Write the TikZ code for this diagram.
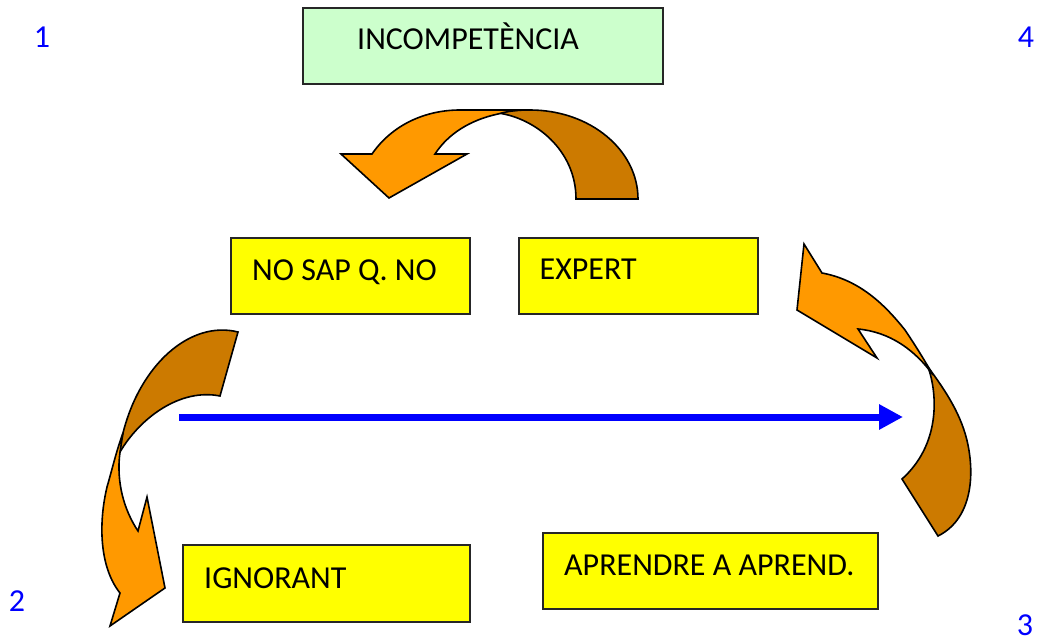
\documentclass[tikz,border=0pt]{standalone}
\usepackage{fontspec}
\setmainfont{Carlito}
\usetikzlibrary{arrows.meta}
\definecolor{boxyellow}{RGB}{255,255,0}
\definecolor{boxgreen}{RGB}{204,255,204}
\definecolor{arroworange}{RGB}{255,153,0}
\definecolor{arrowbrown}{RGB}{204,122,0}
\definecolor{numblue}{RGB}{0,0,255}
\tikzset{
  x=1pt,y=-1pt,
  boxbase/.style={draw=black!85,line width=1.4pt,inner sep=0pt},
  txt/.style={font=\fontsize{32}{35}\selectfont,anchor=base west,inner sep=0pt,text=black},
  num/.style={font=\fontsize{32}{35}\selectfont,anchor=base,inner sep=0pt,text=numblue},
  front/.style={fill=arroworange,draw=black,line width=1.6pt,line join=miter},
  back/.style={fill=arrowbrown,draw=black,line width=1.6pt,line join=miter},
  bluearrow/.style={draw=numblue,line width=7pt,-{Triangle[length=24pt,width=24pt]}}
}
\begin{document}
\begin{tikzpicture}
\useasboundingbox (0,0) rectangle (1037,639);
% boxes
\draw[boxbase,fill=boxgreen] (303,8) rectangle (663,84);
\draw[boxbase,fill=boxyellow] (231,238) rectangle (470,314);
\draw[boxbase,fill=boxyellow] (519,238) rectangle (758,314);
\draw[boxbase,fill=boxyellow] (183,545) rectangle (470,622);
\draw[boxbase,fill=boxyellow] (543,533) rectangle (878,609);
\node[txt] (t1) at (357,50) {INCOMPETÈNCIA};
\node[txt] (t2) at (252,281) {NO SAP Q. NO};
\node[txt] (t3) at (539.5,280) {EXPERT};
\node[txt] (t4) at (204,588) {IGNORANT};
\node[txt] (t5) at (564,575) {APRENDRE A APREND.};
% numbers
\node[num] (n1) at (42,48) {1};
\node[num] (n4) at (1026,48) {4};
\node[num] (n2) at (17,611) {2};
\node[num] (n3) at (1025,635) {3};
% top arrow
\draw[back] (576,199) .. controls (576,150) and (535,118) .. (498,113)
  .. controls (508,110) and (520,110) .. (530,110)
  .. controls (590,110) and (638,150) .. (638,199) -- cycle;
\draw[front] (389,198) -- (341,154) -- (372,154)
  .. controls (392,125) and (425,110) .. (460,110) -- (530,110)
  .. controls (518,110) and (508,111) .. (498,114)
  .. controls (470,120) and (448,134) .. (435,154)
  -- (467,154) -- cycle;
% left arrow
\draw[back] (238,332) -- (220,396)
  .. controls (180,388) and (140,418) .. (120,452)
  .. controls (120,445) and (121,440) .. (123,433)
  .. controls (140,365) and (190,320) .. (238,332) -- cycle;
\draw[front] (123,433) .. controls (116,452) and (112,470) .. (107,487)
  .. controls (98,525) and (100,568) .. (120,593)
  -- (110,626) -- (165,588) -- (147,497) -- (138,531)
  .. controls (124,510) and (116,482) .. (120,452) -- cycle;
% right arrow
\draw[back] (928,367) .. controls (938,395) and (940,445) .. (902,479)
  -- (938,536) .. controls (970,520) and (975,480) .. (968,445)
  .. controls (962,415) and (945,390) .. (928,367) -- cycle;
\draw[front] (804,244) -- (822,273)
  .. controls (860,280) and (885,305) .. (905,330)
  .. controls (915,345) and (922,356) .. (933,375)
  .. controls (915,350) and (890,332) .. (858,329)
  -- (877,358) -- (797,310) -- cycle;
% blue arrow
\coordinate (bs) at (179,417);
\coordinate (be) at (903,417);
\draw[bluearrow] (bs) -- (be);
\end{tikzpicture}
\end{document}
